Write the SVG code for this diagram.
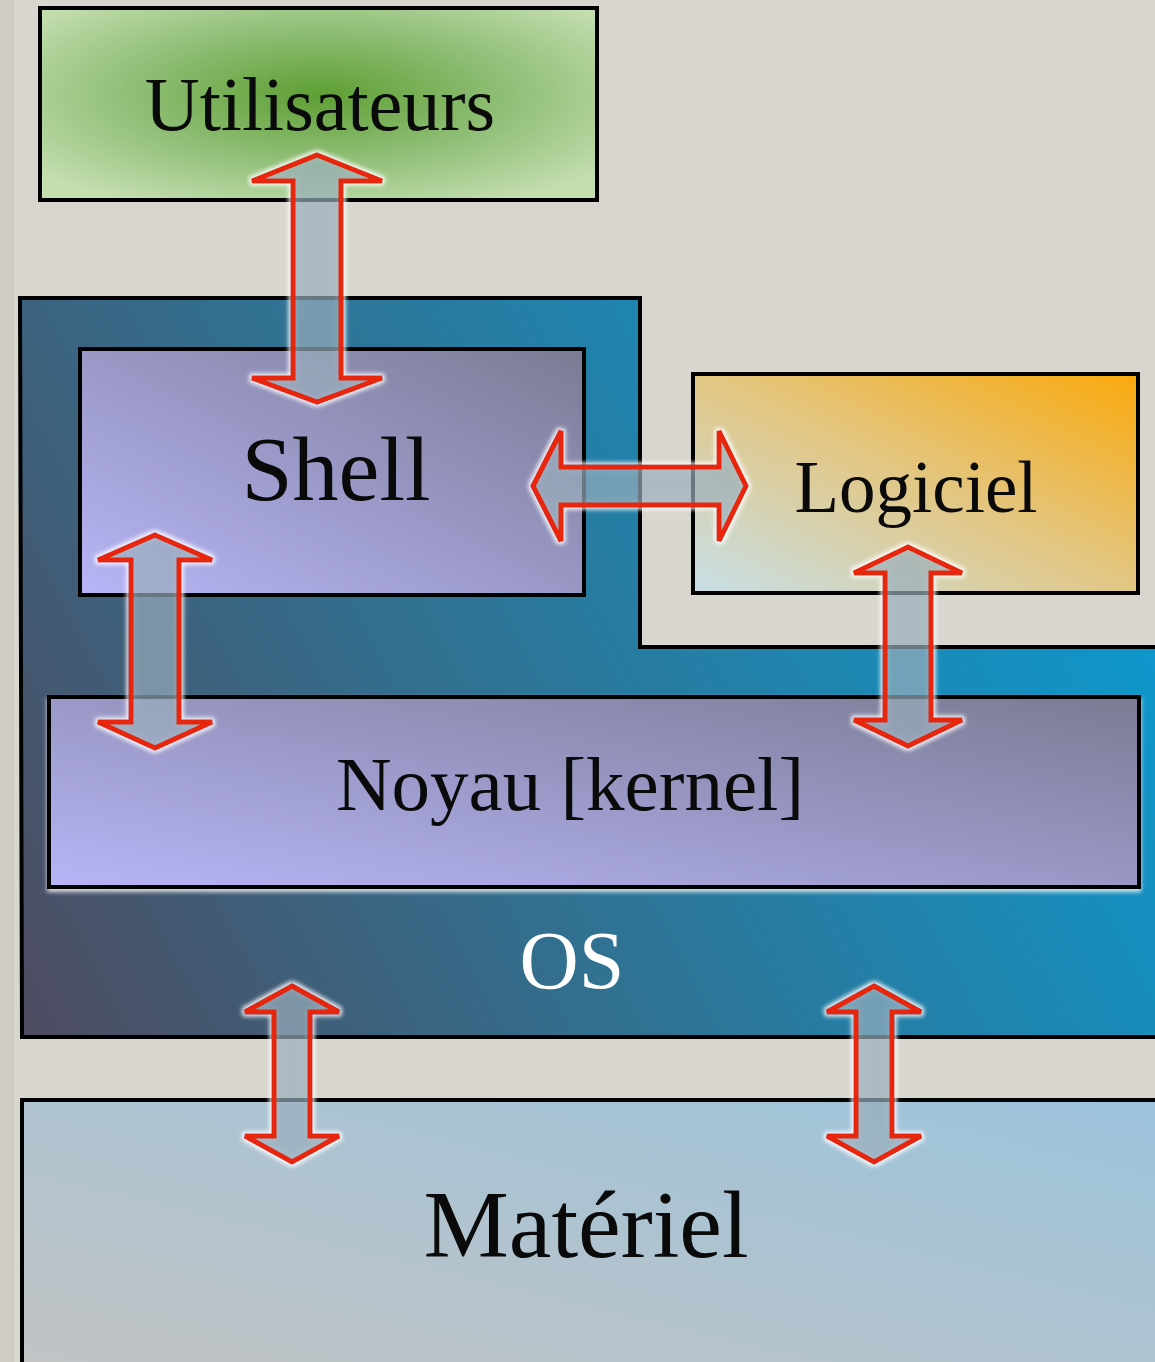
<svg xmlns="http://www.w3.org/2000/svg" width="1155" height="1362" viewBox="0 0 1155 1362">
<defs>
<radialGradient id="gUser" cx="0.5" cy="0.45" r="0.65">
<stop offset="0" stop-color="#5e9f34"/>
<stop offset="0.55" stop-color="#93c07a"/>
<stop offset="1" stop-color="#c4deb0"/>
</radialGradient>
<linearGradient id="gLav" x1="0" y1="1" x2="1" y2="0">
<stop offset="0" stop-color="#b7b5f7"/>
<stop offset="1" stop-color="#7b7b94"/>
</linearGradient>
<linearGradient id="gLog" x1="0" y1="1" x2="1" y2="0">
<stop offset="0" stop-color="#c7dfe8"/>
<stop offset="0.5" stop-color="#e2c785"/>
<stop offset="1" stop-color="#faa90c"/>
</linearGradient>
<linearGradient id="gOS" gradientUnits="userSpaceOnUse" x1="20" y1="1037" x2="1155" y2="450">
<stop offset="0" stop-color="#4e4b60"/>
<stop offset="0.45" stop-color="#2f7394"/>
<stop offset="1" stop-color="#0a9cd3"/>
</linearGradient>
<linearGradient id="gMat" x1="0" y1="1" x2="1" y2="0">
<stop offset="0" stop-color="#c2c3c4"/>
<stop offset="1" stop-color="#9cc3dc"/>
</linearGradient>
<filter id="glow" x="-20%" y="-20%" width="140%" height="140%">
<feMorphology in="SourceAlpha" operator="dilate" radius="2" result="d"/>
<feGaussianBlur in="d" stdDeviation="2" result="b"/>
<feFlood flood-color="#ffffff" flood-opacity="0.9"/>
<feComposite in2="b" operator="in" result="g"/>
<feComposite in="g" in2="SourceAlpha" operator="out" result="g2"/>
<feMerge><feMergeNode in="g2"/><feMergeNode in="SourceGraphic"/></feMerge>
</filter>
<filter id="wshadow" x="-5%" y="-10%" width="110%" height="130%">
<feGaussianBlur in="SourceAlpha" stdDeviation="2" result="b"/>
<feOffset in="b" dy="3" result="o"/>
<feFlood flood-color="#ffffff" flood-opacity="0.8"/>
<feComposite in2="o" operator="in" result="s"/>
<feMerge><feMergeNode in="s"/><feMergeNode in="SourceGraphic"/></feMerge>
</filter>
</defs>
<style>
.box{stroke:#000;stroke-width:4}
.lbl{font-family:"Liberation Serif","DejaVu Serif",serif;fill:#0a0a0a;text-anchor:middle}
.arrow{fill:rgb(129,157,175);fill-opacity:0.6;stroke:#e8280a;stroke-width:5;stroke-linejoin:miter;filter:url(#glow)}
</style>
<rect x="0" y="0" width="1155" height="1362" fill="#d9d6d0"/>
<rect x="0" y="0" width="14" height="1362" fill="#cfccc6"/>

<g id="utilisateurs">
<rect class="box" x="40" y="8" width="557" height="192" fill="url(#gUser)"/>
<text class="lbl" x="320" y="130" font-size="76">Utilisateurs</text>
</g>

<g id="os">
<path class="box" d="M20,298 L640,298 L640,647 L1158,647 L1158,1037 L22,1037 Z" fill="url(#gOS)"/>
<text class="lbl" x="572" y="988" font-size="82" style="fill:#ffffff">OS</text>
</g>

<g id="shell">
<rect class="box" x="80" y="349" width="504" height="246" fill="url(#gLav)"/>
<text class="lbl" x="336" y="500" font-size="92">Shell</text>
</g>

<g id="logiciel">
<rect class="box" x="693" y="374" width="445" height="219" fill="url(#gLog)"/>
<text class="lbl" x="916" y="512" font-size="73">Logiciel</text>
</g>

<g id="noyau">
<rect class="box" x="49" y="697" width="1090" height="190" fill="url(#gLav)" filter="url(#wshadow)"/>
<text class="lbl" x="570" y="810" font-size="77">Noyau [kernel]</text>
</g>

<g id="materiel">
<rect class="box" x="22" y="1100" width="1140" height="270" fill="url(#gMat)"/>
<text class="lbl" x="586" y="1257" font-size="96">Matériel</text>
</g>

<g id="connectors">
<polygon class="arrow" points="317,155 382,181 341,181 341,378 382,378 317,402 252,378 293,378 293,181 252,181"/>
<polygon class="arrow" points="533,486 561,431 561,467 719,467 719,431 746,486 719,541 719,505 561,505 561,541"/>
<polygon class="arrow" points="155,535 212,560 179,560 179,722 212,722 155,748 98,722 131,722 131,560 98,560"/>
<polygon class="arrow" points="908,547 962,573 931,573 931,720 962,720 908,746 854,720 885,720 885,573 854,573"/>
<polygon class="arrow" points="292,986 339,1012 310,1012 310,1136 339,1136 292,1162 245,1136 274,1136 274,1012 245,1012"/>
<polygon class="arrow" points="874,986 921,1012 892,1012 892,1136 921,1136 874,1162 827,1136 856,1136 856,1012 827,1012"/>
</g>
</svg>
